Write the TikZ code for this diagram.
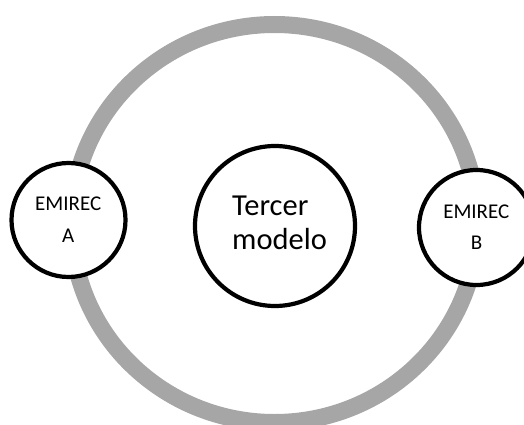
\documentclass[tikz,border=0pt]{standalone}
\usepackage{fontspec}
\setmainfont{Carlito}
\definecolor{ringgray}{HTML}{A6A6A6}
\tikzset{
  ring/.style={draw=ringgray, line width=17pt},
  circ/.style={circle, draw=black, fill=white, line width=4.2pt, inner sep=0pt},
  smalltext/.style={font=\fontsize{21}{25}\selectfont, inner sep=0pt},
  bigtext/.style={font=\fontsize{30.5}{35}\selectfont, inner sep=0pt}
}
\begin{document}
\begin{tikzpicture}[x=1pt,y=-1pt]
\useasboundingbox (0,0) rectangle (524,425);
\clip (0,0) rectangle (524,425);
\draw[ring] (274.5,223.5) ellipse [x radius=203, y radius=199];
\node[circ, minimum size=114pt] (A) at (68.5,220) {};
\node[circ, minimum size=160pt] (M) at (275,226) {};
\node[circ, minimum size=115pt] (B) at (476.5,227.5) {};
\node[smalltext, anchor=base] (A1) at (68.3,210.7) {EMIREC};
\node[smalltext, anchor=base] (A2) at (68.3,242.7) {A};
\node[smalltext, anchor=base] (B1) at (476.3,218) {EMIREC};
\node[smalltext, anchor=base] (B2) at (476.5,249) {B};
\node[bigtext, anchor=base west] (M1) at (232,215) {Tercer};
\node[bigtext, anchor=base west] (M2) at (232,249) {modelo};
\end{tikzpicture}
\end{document}
